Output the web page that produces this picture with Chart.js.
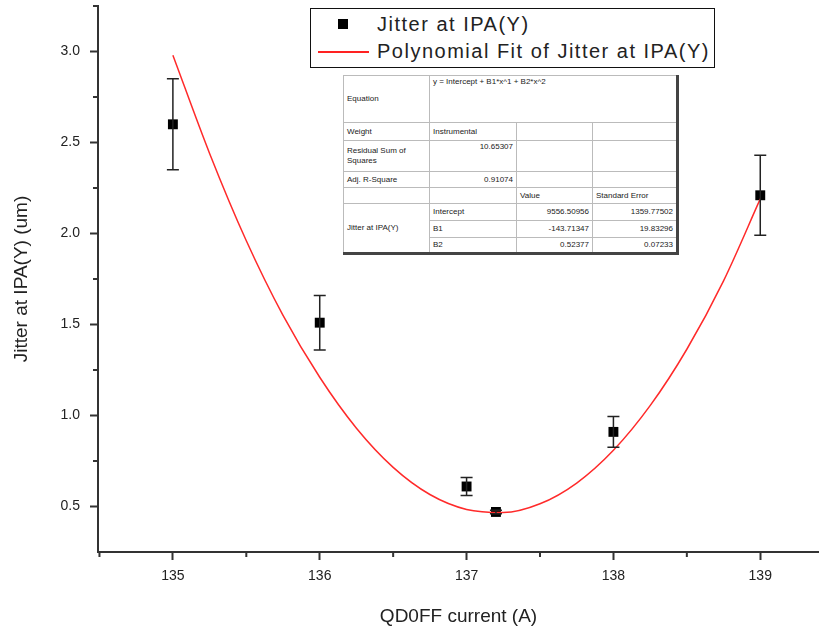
<!DOCTYPE html>
<html>
<head>
<meta charset="utf-8">
<script src="https://cdn.jsdelivr.net/npm/chart.js@4"></script>
<style>
  body { margin: 0; background: #fff; font-family: "Liberation Sans", Arial, sans-serif; }
  #wrap { position: relative; width: 819px; height: 632px; }
  #legend {
    position: absolute; left: 310px; top: 8px; width: 403px; height: 58px;
    border: 1.5px solid #111; background: #fff; font-size: 20px; color: #222; letter-spacing: 1.5px;
  }
  #legend .row { position: absolute; left: 0; height: 26px; line-height: 26px; }
  #legend .mark { position: absolute; left: 27px; top: 8px; width: 10px; height: 10px; background: #000; }
  #legend .line { position: absolute; left: 7px; top: 13px; width: 51px; height: 1.5px; background: #f22; }
  #legend .txt { position: absolute; left: 66px; white-space: nowrap; }
  #fit { position: absolute; left: 343px; top: 75px; border-collapse: collapse; background: #fff;
    font-size: 8px; color: #222; border-left: 1.5px solid #333; border-top: 1.5px solid #333;
    border-right: 3px solid #444; border-bottom: 3px solid #444; }
  #fit td { border: 1px solid #bbb; padding: 1px 3px; vertical-align: middle; line-height: 10px; }
  #fit td.r { text-align: right; }
  #fit td.top { vertical-align: top; }
</style>
</head>
<body>
<div id="wrap">
  <canvas id="jitterChart" width="819" height="632"></canvas>
  <div id="legend">
    <div class="row" style="top:2px"><span class="mark"></span><span class="txt">Jitter at IPA(Y)</span></div>
    <div class="row" style="top:29px"><span class="line"></span><span class="txt">Polynomial Fit of Jitter at IPA(Y)</span></div>
  </div>
  <table id="fit">
    <colgroup><col style="width:86px"><col style="width:87px"><col style="width:76px"><col style="width:85px"></colgroup>
    <tr style="height:47px"><td>Equation</td><td colspan="3" class="top">y = Intercept + B1*x^1 + B2*x^2</td></tr>
    <tr style="height:18px"><td>Weight</td><td>Instrumental</td><td></td><td></td></tr>
    <tr style="height:31px"><td>Residual Sum of Squares</td><td class="r top">10.65307</td><td></td><td></td></tr>
    <tr style="height:16px"><td>Adj. R-Square</td><td class="r">0.91074</td><td></td><td></td></tr>
    <tr style="height:16px"><td></td><td></td><td>Value</td><td>Standard Error</td></tr>
    <tr style="height:17px"><td rowspan="3">Jitter at IPA(Y)</td><td>Intercept</td><td class="r">9556.50956</td><td class="r">1359.77502</td></tr>
    <tr style="height:17px"><td>B1</td><td class="r">-143.71347</td><td class="r">19.83296</td></tr>
    <tr style="height:16px"><td>B2</td><td class="r">0.52377</td><td class="r">0.07233</td></tr>
  </table>
</div>
<script>
document.addEventListener('DOMContentLoaded', () => {

    /* ======= data ======= */
    const currents = [135, 136, 137, 137.2, 138, 139];
    const jitter   = [2.60, 1.51, 0.61, 0.47, 0.91, 2.21];
    const jitterErr = [0.25, 0.15, 0.05, 0.01, 0.085, 0.22];

    const fitX = [135, 135.25, 135.5, 135.75, 136, 136.25, 136.5, 136.75, 137,
                  137.25, 137.5, 137.75, 138, 138.25, 138.5, 138.75, 139];
    const fitY = [2.98, 2.44, 1.96, 1.55, 1.21, 0.93, 0.715, 0.566, 0.484,
                  0.467, 0.515, 0.629, 0.809, 1.054, 1.364, 1.74, 2.19];

    const xMajor = [135, 136, 137, 138, 139];
    const xMinor = [134.5, 135.5, 136.5, 137.5, 138.5, 139.5];
    const yMajor = [0.5, 1.0, 1.5, 2.0, 2.5, 3.0];
    const yMinor = [0.75, 1.25, 1.75, 2.25, 2.75, 3.25];

    const axisColor = '#333';
    const tickFont = { family: 'Liberation Sans, Arial, sans-serif', size: 14 };
    const titleFont = { family: 'Liberation Sans, Arial, sans-serif', size: 19 };

    // error bars + minor ticks, drawn via the chart's own scales
    const extras = {
        id: 'extras',
        afterDatasetsDraw(chart) {
            const { ctx, scales: { x, y }, chartArea } = chart;
            ctx.save();
            ctx.strokeStyle = '#222';
            ctx.lineWidth = 1.5;
            currents.forEach((c, i) => {
                const px = x.getPixelForValue(c);
                const top = y.getPixelForValue(jitter[i] + jitterErr[i]);
                const bot = y.getPixelForValue(jitter[i] - jitterErr[i]);
                ctx.beginPath();
                ctx.moveTo(px, top); ctx.lineTo(px, bot);
                ctx.moveTo(px - 6, top); ctx.lineTo(px + 6, top);
                ctx.moveTo(px - 6, bot); ctx.lineTo(px + 6, bot);
                ctx.stroke();
            });
            ctx.strokeStyle = axisColor;
            ctx.lineWidth = 2;
            ctx.beginPath();
            xMinor.forEach(v => {
                const px = x.getPixelForValue(v);
                if (px < chartArea.left || px > chartArea.right) return;
                ctx.moveTo(px, chartArea.bottom); ctx.lineTo(px, chartArea.bottom + 5);
            });
            yMinor.forEach(v => {
                const py = y.getPixelForValue(v);
                ctx.moveTo(chartArea.left, py); ctx.lineTo(chartArea.left - 5, py);
            });
            ctx.stroke();
            ctx.restore();
        }
    };

    const ctx = document.getElementById('jitterChart').getContext('2d');
    new Chart(ctx, {
        type: 'scatter',
        data: {
            datasets: [{
                label: 'Polynomial Fit of Jitter at IPA(Y)',
                type: 'line',
                data: fitX.map((v, i) => ({ x: v, y: fitY[i] })),
                borderColor: '#ff2a2a',
                borderWidth: 1.5,
                pointRadius: 0,
                fill: false,
                cubicInterpolationMode: 'monotone'
            }, {
                label: 'Jitter at IPA(Y)',
                data: currents.map((v, i) => ({ x: v, y: jitter[i] })),
                pointStyle: 'rect',
                pointRadius: 7,
                backgroundColor: '#000',
                borderColor: '#000',
                borderWidth: 0
            }]
        },
        options: {
            responsive: false,
            animation: false,
            layout: { autoPadding: false, padding: { top: 6, right: 0, left: 0, bottom: 0 } },
            plugins: { legend: { display: false }, tooltip: { enabled: false } },
            scales: {
                x: {
                    type: 'linear',
                    min: 134.49, max: 139.4,
                    afterFit: s => { s.height = 80; s.paddingLeft = 0; s.paddingRight = 0; },
                    afterBuildTicks: s => { s.ticks = xMajor.map(v => ({ value: v })); },
                    ticks: { color: '#222', font: tickFont, padding: 8, maxRotation: 0 },
                    grid: { drawOnChartArea: false, tickLength: 8, tickColor: axisColor, tickWidth: 2 },
                    border: { color: axisColor, width: 2 },
                    title: { display: true, text: 'QD0FF current (A)', color: '#222', font: titleFont, padding: { top: 4, bottom: 4 } }
                },
                y: {
                    min: 0.25, max: 3.25,
                    afterFit: s => { s.width = 98; s.paddingTop = 0; s.paddingBottom = 0; },
                    afterBuildTicks: s => { s.ticks = yMajor.map(v => ({ value: v })); },
                    ticks: { color: '#222', font: tickFont, padding: 10, callback: v => v.toFixed(1) },
                    grid: { drawOnChartArea: false, tickLength: 8, tickColor: axisColor, tickWidth: 2 },
                    border: { color: axisColor, width: 2 },
                    title: { display: true, text: 'Jitter at IPA(Y) (um)', color: '#222', font: titleFont, padding: { top: 10, bottom: 4 } }
                }
            }
        },
        plugins: [extras]
    });

});
</script>
</body>
</html>
